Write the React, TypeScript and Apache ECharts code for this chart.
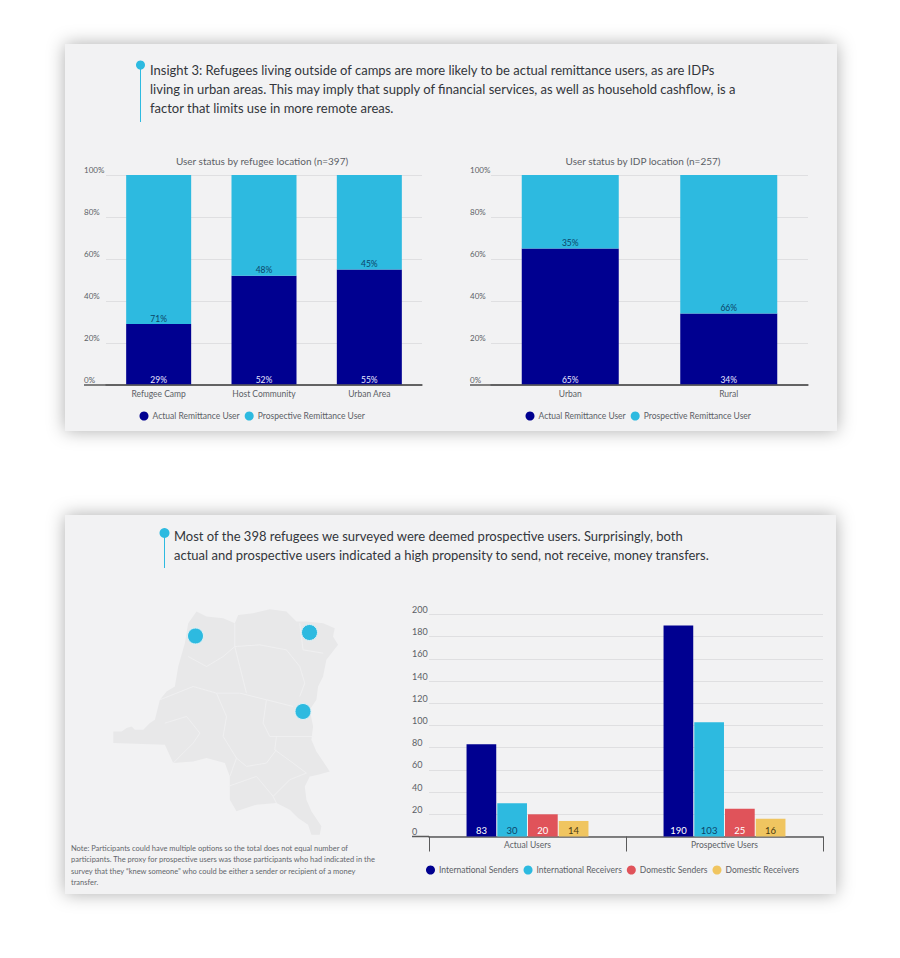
import React, { useEffect, useRef } from "react";
import * as echarts from "echarts";

const FONT = "Lato";
const NAVY = "#000090";
const CYAN = "#2dbae0";
const RED = "#e0535a";
const YELLOW = "#f0c560";
const CARD = "#f2f2f3";
const TXT = "#5c5f66";

const refugeeLocations = ["Refugee Camp", "Host Community", "Urban Area"];
const refugeeActual = [29, 52, 55];
const refugeeProspective = [71, 48, 45];
const idpLocations = ["Urban", "Rural"];
const idpActual = [65, 34];
const idpProspective = [35, 66];
const userTypes = ["Actual Users", "Prospective Users"];
const intlSenders = [83, 190];
const intlReceivers = [30, 103];
const domSenders = [20, 25];
const domReceivers = [14, 16];

const insightLines = [
  "Insight 3: Refugees living outside of camps are more likely to be actual remittance users, as are IDPs",
  "living in urban areas. This may imply that supply of financial services, as well as household cashflow, is a",
  "factor that limits use in more remote areas.",
];
const surveyLines = [
  "Most of the 398 refugees we surveyed were deemed prospective users. Surprisingly, both",
  "actual and prospective users indicated a high propensity to send, not receive, money transfers.",
];
const noteLines = [
  "Note: Participants could have multiple options so the total does not equal number of",
  "participants. The proxy for prospective users was those participants who had indicated in the",
  "survey that they \u201cknew someone\u201d who could be either a sender or recipient of a money",
  "transfer.",
];

const OUTLINE =
  "M160 665L185 665L200 655L215 650L225 660L250 660L270 640L285 630L300 570L320 545L345 530L355 470L375 400L385 340L410 305L440 320L490 325L525 340L535 315L580 310L630 298L680 305L710 335L740 335L790 340L825 355L820 380L835 405L800 450L790 500L775 530L770 570L750 600L760 650L755 690L770 725L810 785L775 795L750 800L735 830L740 870L755 905L785 950L780 975L755 975L745 945L715 925L690 900L650 880L590 885L530 905L510 870L510 800L495 760L440 745L400 755L340 760L315 705L160 700Z";
const PROVINCES =
  "M385 440L440 470L490 440L525 410L600 405L680 420L720 470L735 520L720 560M525 340L525 410L540 470L560 550M720 340L730 420L790 430M300 570L400 530L470 550L540 550L620 570L700 590M470 550L500 620L490 680L530 745L510 800M620 570L610 640L630 680L760 680M315 640L380 620L420 670L400 700L340 760M650 680L645 720L700 760L740 790M530 745L560 770L620 760L650 720M505 830L590 800L640 860L650 880M640 860L690 810L740 790";

echarts.graphic.registerShape("drcOutline", echarts.graphic.extendPath(OUTLINE, {}));
echarts.graphic.registerShape("drcProvinces", echarts.graphic.extendPath(PROVINCES, {}));

const textEl = (text: string, x: number, y: number, size: number, fill: string, align = "left") => ({
  type: "text",
  x,
  y,
  z: 5,
  style: { text, fontFamily: FONT, fontSize: size, fill, align, verticalAlign: "middle" },
});
const cardEl = (x: number, y: number, width: number, height: number) => ({
  type: "rect",
  z: -5,
  shape: { x, y, width, height },
  style: { fill: CARD, shadowBlur: 18, shadowColor: "rgba(0,0,0,0.32)", shadowOffsetX: 0, shadowOffsetY: 0 },
});
const pinEl = (x: number, y0: number, y1: number, r: number) => [
  { type: "line", z: 5, shape: { x1: x, y1: y0, x2: x, y2: y1 }, style: { stroke: CYAN, lineWidth: 1 } },
  { type: "circle", z: 5, shape: { cx: x, cy: y0, r }, style: { fill: CYAN } },
];
const dotEl = (cx: number, cy: number) => ({
  type: "circle",
  z: 6,
  shape: { cx, cy, r: 8 },
  style: { fill: CYAN, stroke: "#dff1f6", lineWidth: 1 },
});
const baseEl = (x1: number, x2: number, y: number) => ({
  type: "line",
  z: 4,
  shape: { x1, y1: y, x2, y2: y },
  style: { stroke: "#5a5a5a", lineWidth: 1.5 },
});

const catAxis = (gridIndex: number, data: string[], extra: object = {}) => ({
  type: "category",
  gridIndex,
  data,
  axisLine: { show: true, lineStyle: { color: "#5a5a5a", width: 1.5 } },
  axisTick: { show: false },
  axisLabel: { color: TXT, fontFamily: FONT, fontSize: 8.5, margin: 4 },
  ...extra,
});
const valAxis = (gridIndex: number, max: number, interval: number, formatter: string, margin: number, size: number) => ({
  type: "value",
  gridIndex,
  min: 0,
  max,
  interval,
  axisLine: { show: false },
  axisTick: { show: false },
  splitLine: { lineStyle: { color: "#dfdfe1", width: 1 } },
  axisLabel: { formatter, color: TXT, fontFamily: FONT, fontSize: size, align: "left", verticalAlign: "bottom", margin, lineHeight: 10 },
});
const barSeries = (
  name: string,
  data: number[],
  axis: number,
  color: string,
  labelColor: string,
  extra: object,
  formatter: string,
  size: number,
) => ({
  type: "bar",
  name,
  data,
  xAxisIndex: axis,
  yAxisIndex: axis,
  itemStyle: { color },
  label: { show: true, position: "insideBottom", distance: 1, color: labelColor, fontFamily: FONT, fontSize: size, formatter },
  ...extra,
});
const legendOf = (data: string[], left: number, top: number, itemGap: number) => ({
  data,
  left,
  top,
  padding: 0,
  itemGap,
  itemWidth: 9,
  itemHeight: 9,
  icon: "circle",
  selectedMode: false,
  textStyle: { color: TXT, fontFamily: FONT, fontSize: 8.5, padding: [0, 0, 0, -1] },
});

const ACTUAL = "Actual Remittance User";
const PROSPECT = "Prospective Remittance User";
const IS = "International Senders";
const IR = "International Receivers";
const DS = "Domestic Senders";
const DR = "Domestic Receivers";
const DARK_TEAL = "#0b4468";

export default function App() {
  const ref = useRef<HTMLDivElement>(null);
  useEffect(() => {
    const chart = echarts.init(ref.current!, undefined, { renderer: "svg" });
    chart.setOption({
      animation: false,
      backgroundColor: "#ffffff",
      title: [
        { text: "User status by refugee location (n=397)", left: 257, top: 151, textAlign: "center", textStyle: { color: TXT, fontFamily: FONT, fontSize: 10, fontWeight: "normal" } },
        { text: "User status by IDP location (n=257)", left: 638, top: 151, textAlign: "center", textStyle: { color: TXT, fontFamily: FONT, fontSize: 10, fontWeight: "normal" } },
      ],
      grid: [
        { left: 106, top: 175, width: 316, height: 210 },
        { left: 491, top: 175, width: 317, height: 210 },
        { left: 429, top: 614.5, width: 394, height: 222 },
      ],
      xAxis: [
        catAxis(0, refugeeLocations),
        catAxis(1, idpLocations),
        catAxis(2, userTypes, {
          axisTick: { show: true, length: 15, alignWithLabel: false, lineStyle: { color: "#5a5a5a", width: 1 } },
        }),
      ],
      yAxis: [
        valAxis(0, 100, 20, "{value}%", 22, 8),
        valAxis(1, 100, 20, "{value}%", 21, 8),
        valAxis(2, 200, 20, "{value}", 17, 9),
      ],
      legend: [
        legendOf([ACTUAL, PROSPECT], 139.5, 411.5, 5),
        legendOf([ACTUAL, PROSPECT], 525.5, 411.5, 5),
        legendOf([IS, IR, DS, DR], 426, 865.5, 5),
      ],
      series: [
        barSeries(ACTUAL, refugeeActual, 0, NAVY, "#e8e8ff", { stack: "a", barWidth: 65 }, "{c}%", 8.5),
        barSeries(PROSPECT, refugeeProspective, 0, CYAN, DARK_TEAL, { stack: "a", barWidth: 65 }, "{c}%", 8.5),
        barSeries(ACTUAL, idpActual, 1, NAVY, "#e8e8ff", { stack: "b", barWidth: 97 }, "{c}%", 8.5),
        barSeries(PROSPECT, idpProspective, 1, CYAN, DARK_TEAL, { stack: "b", barWidth: 97 }, "{c}%", 8.5),
        barSeries(IS, intlSenders, 2, NAVY, "#ffffff", { barWidth: 29.7, barGap: "3.5%" }, "{c}", 9.5),
        barSeries(IR, intlReceivers, 2, CYAN, DARK_TEAL, { barWidth: 29.7, barGap: "3.5%" }, "{c}", 9.5),
        barSeries(DS, domSenders, 2, RED, "#ffffff", { barWidth: 29.7, barGap: "3.5%" }, "{c}", 9.5),
        barSeries(DR, domReceivers, 2, YELLOW, "#4a3a10", { barWidth: 29.7, barGap: "3.5%" }, "{c}", 9.5),
      ],
      graphic: [
        cardEl(65, 44, 772, 387),
        cardEl(65, 515, 771, 379),
        ...pinEl(140.5, 65, 122, 4.5),
        ...insightLines.map((t, i) => textEl(t, 150, 70 + i * 19, 13, "#33363b")),
        ...pinEl(164.5, 533, 568, 5),
        ...surveyLines.map((t, i) => textEl(t, 174, 536 + i * 19, 13, "#33363b")),
        ...noteLines.map((t, i) => textEl(t, 71, 848 + i * 11.5, 7.5, "#63666b")),
        baseEl(84, 422, 385),
        baseEl(470, 808, 385),
        baseEl(412, 429, 836.5),
        { type: "drcOutline", x: 60, y: 510, scaleX: 1 / 3, scaleY: 1 / 3, z: 1, style: { fill: "#e8e8e9" } },
        { type: "drcProvinces", x: 60, y: 510, scaleX: 1 / 3, scaleY: 1 / 3, z: 2, style: { fill: "none", stroke: "#f1f1f2", lineWidth: 2.5 } },
        dotEl(195.5, 636),
        dotEl(309.5, 632.5),
        dotEl(303, 711.5),
      ],
    });
    return () => chart.dispose();
  }, []);
  return <div ref={ref} style={{ position: "absolute", left: 0, top: 0, width: 900, height: 958 }} />;
}
